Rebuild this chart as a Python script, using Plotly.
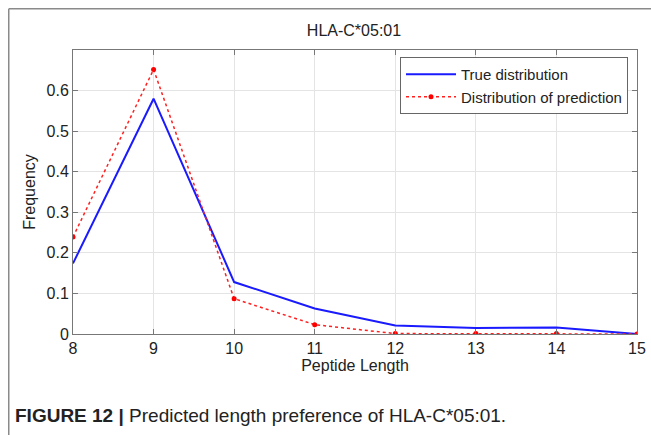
import plotly.graph_objects as go

peptide_length = [8, 9, 10, 11, 12, 13, 14, 15]
true_dist = [0.174, 0.580, 0.128, 0.063, 0.021, 0.015, 0.016, 0.0]
pred_dist = [0.239, 0.652, 0.087, 0.023, 0.001, 0.001, 0.001, 0.0]
y_ticks = [0, 0.1, 0.2, 0.3, 0.4, 0.5, 0.6]
y_tick_labels = ["0", "0.1", "0.2", "0.3", "0.4", "0.5", "0.6"]

W, H = 651, 435
L, R, T, B = 73, 14, 50, 101
pw, ph = W - L - R, H - T - B

def px_x(x):  # x in screen pixels
    return (x - L) / pw

def px_y(y):
    return (H - B - y) / ph

font = "Liberation Sans, Arial, sans-serif"
txt = "#222222"

fig = go.Figure()
fig.add_trace(go.Scatter(
    x=peptide_length, y=true_dist, mode="lines", name="True distribution",
    line=dict(color="#1a1aff", width=2)))
fig.add_trace(go.Scatter(
    x=peptide_length, y=pred_dist, mode="lines+markers", name="Distribution of prediction",
    line=dict(color="#ff2020", width=1.5, dash="dot"),
    marker=dict(color="#ff0000", size=5)))

axis_common = dict(
    showline=True, linecolor="#777777", linewidth=1, mirror="ticks",
    ticks="inside", ticklen=5, tickcolor="#777777",
    showgrid=True, gridcolor="#e4e4e4", gridwidth=1, zeroline=False,
    tickfont=dict(family=font, size=16, color=txt),
    automargin=False,
)

fig.update_xaxes(range=[8, 15], tickvals=peptide_length, **axis_common,
                 title=dict(text="Peptide Length", font=dict(family=font, size=16, color=txt), standoff=2))
fig.update_yaxes(range=[0, 0.7], tickvals=y_ticks, ticktext=y_tick_labels, **axis_common,
                 title=dict(text="Frequency", font=dict(family=font, size=16, color=txt), standoff=6))

fig.update_layout(
    width=W, height=H,
    margin=dict(l=L, r=R, t=T, b=B),
    paper_bgcolor="white", plot_bgcolor="white",
    title=dict(text="HLA-C*05:01", x=px_x(354), xref="paper", xanchor="center",
               y=1 - 30 / H, yanchor="middle",
               font=dict(family=font, size=16, color=txt)),
    legend=dict(x=px_x(628), xanchor="right", y=px_y(57), yanchor="top",
                bgcolor="white", bordercolor="#666666", borderwidth=1,
                font=dict(family=font, size=15, color=txt),
                itemwidth=50, tracegroupgap=0),
    showlegend=True,
)

# outer frame lines (top and left)
fig.add_shape(type="line", xref="paper", yref="paper",
              x0=px_x(8.75), x1=px_x(W + 5), y0=px_y(8.75), y1=px_y(8.75),
              line=dict(color="#8a8a8a", width=1.5))
fig.add_shape(type="line", xref="paper", yref="paper",
              x0=px_x(8.75), x1=px_x(8.75), y0=px_y(8.75), y1=px_y(H + 5),
              line=dict(color="#8a8a8a", width=1.5))

fig.add_annotation(
    xref="paper", yref="paper", x=px_x(13), y=px_y(415),
    xanchor="left", yanchor="middle", showarrow=False,
    text="<b>FIGURE 12 |</b> Predicted length preference of HLA-C*05:01.",
    font=dict(family=font, size=19, color=txt))

fig.write_html(
    "out.html",
    config={"displayModeBar": False},
    post_script="document.body.style.margin='0';document.body.style.overflow='hidden';",
)
